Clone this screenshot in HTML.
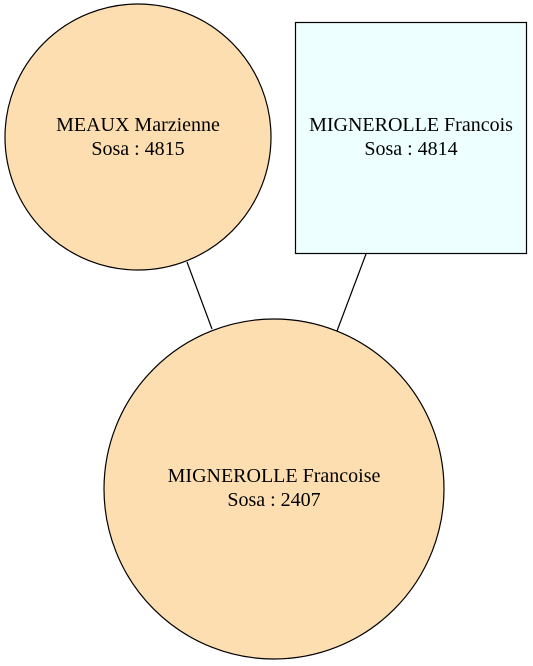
<!DOCTYPE html>
<html><head><style>html,body{margin:0;padding:0;background:#fff}</style></head>
<body>
<svg width="533" height="666" xmlns="http://www.w3.org/2000/svg" style="display:block">
<g font-family="Liberation Serif, serif" font-size="20" text-anchor="middle" fill="#000">
<line x1="187" y1="262" x2="212" y2="329" stroke="#000" stroke-width="1.2"/>
<line x1="366" y1="254" x2="337" y2="331" stroke="#000" stroke-width="1.2"/>
<circle cx="138" cy="137" r="133" fill="#fddeb0" stroke="#000" stroke-width="1.2"/>
<text x="138" y="131">MEAUX Marzienne</text>
<text x="138" y="155">Sosa : 4815</text>
<rect x="295.5" y="22.5" width="231" height="231" fill="#eeffff" stroke="#000" stroke-width="1.2"/>
<text x="411" y="131">MIGNEROLLE Francois</text>
<text x="411" y="155">Sosa : 4814</text>
<circle cx="274" cy="489" r="170" fill="#fddeb0" stroke="#000" stroke-width="1.2"/>
<text x="274" y="482">MIGNEROLLE Francoise</text>
<text x="274" y="506">Sosa : 2407</text>
</g>
</svg>
</body></html>
